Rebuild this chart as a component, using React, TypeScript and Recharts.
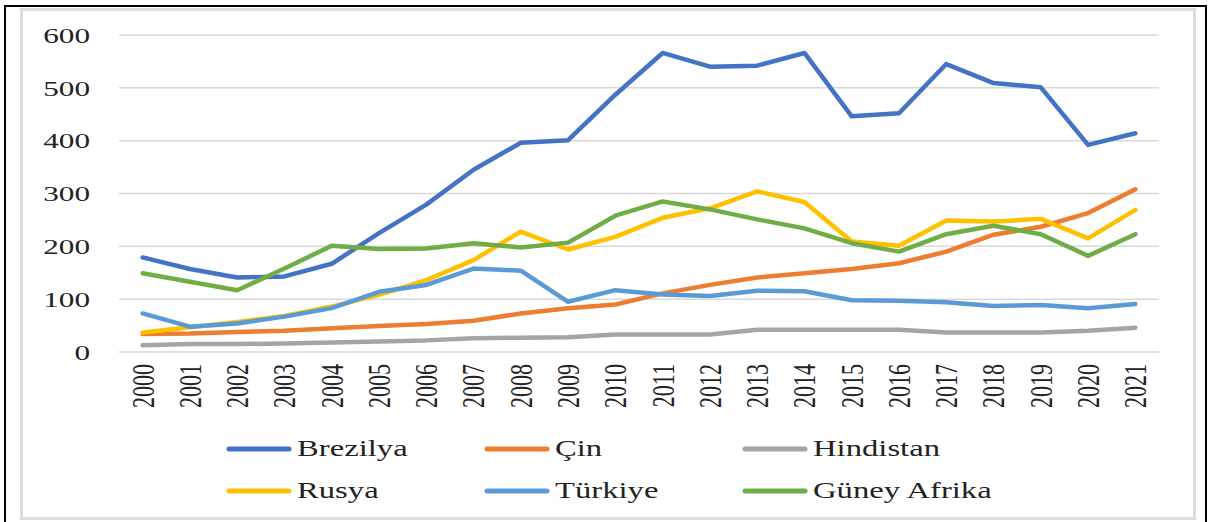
import React from "react";
import {
  LineChart,
  Line,
  XAxis,
  YAxis,
  CartesianGrid,
  Legend,
} from "recharts";

const years = [
  "2000", "2001", "2002", "2003", "2004", "2005", "2006", "2007", "2008", "2009", "2010",
  "2011", "2012", "2013", "2014", "2015", "2016", "2017", "2018", "2019", "2020", "2021",
];

const brezilya = [179, 157, 141, 143, 167, 225, 279, 345, 396, 401, 487, 566, 540, 542, 566, 446, 452, 545, 509, 501, 392, 414];
const cin = [34, 35, 38, 40, 45, 49, 53, 59, 73, 83, 90, 111, 127, 141, 149, 157, 168, 190, 222, 237, 263, 308];
const hindistan = [13, 15, 15, 16, 18, 20, 22, 26, 27, 28, 33, 33, 33, 42, 42, 42, 42, 37, 37, 37, 40, 46];
const rusya = [37, 47, 57, 68, 86, 108, 136, 174, 228, 194, 218, 254, 272, 304, 284, 209, 201, 249, 247, 252, 215, 269];
const turkiye = [73, 48, 54, 67, 83, 114, 127, 158, 154, 95, 117, 109, 106, 116, 115, 98, 97, 94, 87, 89, 83, 91];
const guneyAfrika = [149, 133, 117, 158, 201, 195, 196, 206, 198, 207, 258, 285, 270, 251, 234, 206, 190, 223, 239, 223, 182, 223];

const yTicks = [0, 100, 200, 300, 400, 500, 600];

const series = [
  { key: "Brezilya", values: brezilya, color: "#4472C4" },
  { key: "Çin", values: cin, color: "#ED7D31" },
  { key: "Hindistan", values: hindistan, color: "#A5A5A5" },
  { key: "Rusya", values: rusya, color: "#FFC000" },
  { key: "Türkiye", values: turkiye, color: "#5B9BD5" },
  { key: "Güney Afrika", values: guneyAfrika, color: "#70AD47" },
];

const data = years.map((year, i) => {
  const row: Record<string, string | number> = { year };
  series.forEach((s) => {
    row[s.key] = s.values[i];
  });
  return row;
});

const FONT = "'Liberation Serif', 'Times New Roman', serif";
const STRETCH = 1.42;

function YTick(props: any) {
  const { x, y, payload } = props;
  return (
    <text
      transform={`translate(${x},${y}) scale(${STRETCH},1)`}
      textAnchor="end"
      dy="0.35em"
      fontFamily={FONT}
      fontSize={22}
      fill="#222"
    >
      {payload.value}
    </text>
  );
}

function XTick(props: any) {
  const { x, y, payload } = props;
  return (
    <text
      transform={`translate(${x},${y}) scale(${STRETCH},1) rotate(-90)`}
      textAnchor="end"
      dy="0.35em"
      fontFamily={FONT}
      fontSize={22}
      fill="#222"
    >
      {payload.value}
    </text>
  );
}

function LegendBox() {
  return (
    <div style={{ position: "relative", width: 1208, height: 90 }}>
      {series.map((s, i) => {
        const col = i % 3;
        const row = Math.floor(i / 3);
        return (
          <div
            key={s.key}
            style={{
              position: "absolute",
              left: 226 + col * 258,
              top: 1 + row * 42,
              height: 42,
              display: "flex",
              alignItems: "center",
            }}
          >
            <svg width={66} height={10}>
              <line
                x1={3}
                y1={5}
                x2={63}
                y2={5}
                stroke={s.color}
                strokeWidth={5}
                strokeLinecap="round"
              />
            </svg>
            <span
              style={{
                display: "inline-block",
                marginLeft: 5,
                fontFamily: FONT,
                fontSize: 23,
                color: "#222",
                transform: `scale(${STRETCH},1)`,
                transformOrigin: "left center",
                whiteSpace: "nowrap",
              }}
            >
              {s.key}
            </span>
          </div>
        );
      })}
    </div>
  );
}

export default function App() {
  return (
    <div
      style={{
        position: "fixed",
        left: 0,
        top: 0,
        width: 1208,
        height: 522,
        background: "#fff",
        overflow: "hidden",
      }}
    >
      <div
        style={{
          position: "absolute",
          boxSizing: "border-box",
          left: 4,
          top: 5,
          width: 1203,
          height: 530,
          border: "2px solid #000",
        }}
      />
      <div
        style={{
          position: "absolute",
          boxSizing: "border-box",
          left: 20,
          top: 8,
          width: 1176,
          height: 512,
          border: "3px solid #dcdcdc",
        }}
      />
      <div style={{ position: "absolute", left: 0, top: 0 }}>
        <LineChart
          width={1208}
          height={522}
          data={data}
          margin={{ top: 35, right: 49, bottom: 5, left: 59 }}
        >
          <CartesianGrid vertical={false} stroke="#d9d9d9" strokeWidth={1.5} />
          <XAxis
            dataKey="year"
            scale="band"
            interval={0}
            axisLine={false}
            tickLine={false}
            tickSize={0}
            tickMargin={12}
            height={75}
            tick={<XTick />}
          />
          <YAxis
            domain={[0, 600]}
            ticks={yTicks}
            axisLine={false}
            tickLine={false}
            tickSize={0}
            tickMargin={29}
            width={60}
            tick={<YTick />}
          />
          <Legend
            verticalAlign="bottom"
            wrapperStyle={{ left: 0, width: 1208, height: 90 }}
            content={() => <LegendBox />}
          />
          {series.map((s) => (
            <Line
              key={s.key}
              type="linear"
              dataKey={s.key}
              stroke={s.color}
              strokeWidth={4.5}
              strokeLinejoin="round"
              strokeLinecap="round"
              dot={false}
              isAnimationActive={false}
            />
          ))}
        </LineChart>
      </div>
    </div>
  );
}
